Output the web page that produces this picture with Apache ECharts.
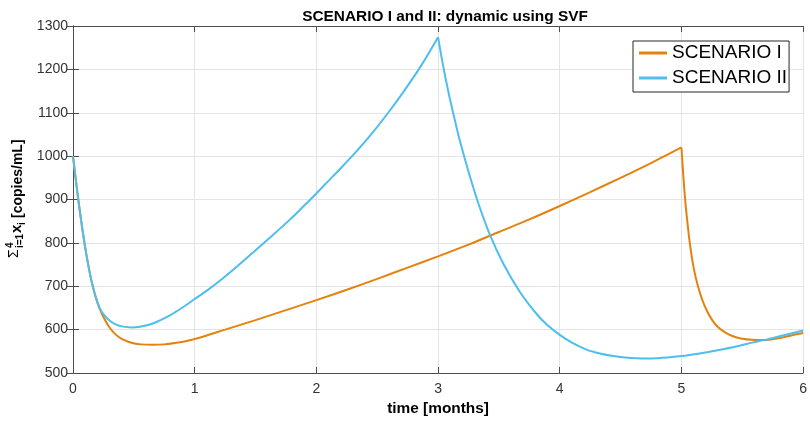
<!DOCTYPE html>
<html>
<head>
<meta charset="utf-8">
<script src="https://cdn.jsdelivr.net/npm/echarts@6/dist/echarts.min.js"></script>
<style>
  html, body { margin: 0; padding: 0; background: #fff; }
  #chart { width: 810px; height: 423px; }
</style>
</head>
<body>
<div id="chart"></div>
<script>
// Total viral load (sum over the four compartments), two treatment scenarios
const timeI = [0, 0.025, 0.05, 0.08, 0.11, 0.14, 0.165, 0.19, 0.22, 0.25, 0.3, 0.35, 0.4, 0.48, 0.56, 0.65, 0.75, 0.85, 1.0,
  1.25, 1.5, 1.75, 2.0, 2.25, 2.5, 2.75, 3.0, 3.25, 3.5, 3.75, 4.0, 4.25, 4.5, 4.75, 5.0,
  5.011, 5.022, 5.035, 5.049, 5.062, 5.076, 5.095, 5.117, 5.14, 5.172, 5.21, 5.253, 5.3, 5.362, 5.43, 5.5, 5.58, 5.66,
  5.74, 5.83, 5.91, 6.0];
const valuesI = [1000, 941, 886, 826, 773, 728, 697, 672, 648, 629, 605, 589, 578.5, 569.7, 566, 565, 566, 569.5, 578.5,
  600, 622, 645, 668, 692, 717, 743, 769, 796, 825, 854, 885, 917, 950, 984, 1020,
  973, 930, 886, 848, 815, 785, 751, 721, 696, 668, 643, 622, 606, 593, 584, 579, 576.5, 576,
  577.5, 582, 587, 592];

const timeII = [0, 0.025, 0.05, 0.08, 0.11, 0.14, 0.165, 0.19, 0.22, 0.25, 0.3, 0.35, 0.4, 0.48, 0.55, 0.65, 0.8, 0.9, 1.0,
  1.1, 1.23, 1.35, 1.5, 1.65, 1.78, 1.9, 2.0, 2.1, 2.2, 2.32, 2.45, 2.59, 2.72, 2.86, 3.0,
  3.015, 3.03, 3.06, 3.1, 3.16, 3.2, 3.26, 3.33, 3.43, 3.54, 3.67, 3.81, 3.9, 4.0, 4.1, 4.22, 4.33, 4.44, 4.56, 4.68, 4.8,
  5.0, 5.15, 5.31, 5.45, 5.58, 5.7, 5.8, 5.9, 6.0];
const valuesII = [1000, 941, 886, 826, 773, 728, 697, 672, 649, 636, 621, 612, 607.5, 605, 606.5, 613.5, 633.5, 651, 670.5,
  690, 718, 746, 783, 820, 853, 886, 914, 943, 972, 1008, 1050, 1100, 1150, 1208, 1274,
  1250, 1226, 1182, 1129, 1057, 1014, 955, 892, 816, 750, 688, 636, 610, 588, 570, 554, 545, 539, 535, 533.5, 534,
  539, 545, 553, 561, 570, 577, 584, 591, 598];

// dosing switch times: the curves have a sharp corner here
const switchI = 5;
const switchII = 3;

const seriesNames = ['SCENARIO I', 'SCENARIO II'];
const xTicks = { min: 0, max: 6, step: 1 };
const yTicks = { min: 500, max: 1300, step: 100 };

const FONT = '"Liberation Sans", Arial, Helvetica, sans-serif';
const AXIS_COLOR = '#4d4d4d';
const GRID_COLOR = '#e4e4e4';
const COLOR_I = '#E5820F';
const COLOR_II = '#4DBEEE';

const zip = (xs, ys) => xs.map((x, i) => [x, ys[i]]);
// split a curve at the switch time so each piece can be smoothed on its own
const splitAt = (pts, t0) => [pts.filter(p => p[0] <= t0), pts.filter(p => p[0] >= t0)];

const [I_a, I_b] = splitAt(zip(timeI, valuesI), switchI);
const [II_a, II_b] = splitAt(zip(timeII, valuesII), switchII);

const lineSeries = (name, data, color, z) => ({
  name, type: 'line', data,
  showSymbol: false,
  smooth: 0.3,
  color,
  lineStyle: { color, width: 2 },
  z
});

const chart = echarts.init(document.getElementById('chart'), null, { renderer: 'canvas' });

const mirrorAxis = {
  show: true,
  axisLine: { show: true, lineStyle: { color: AXIS_COLOR, width: 1 } },
  axisTick: { show: true, inside: true, length: 6, lineStyle: { color: AXIS_COLOR } },
  axisLabel: { show: false },
  splitLine: { show: false }
};

chart.setOption({
  animation: false,
  backgroundColor: '#ffffff',
  title: {
    text: 'SCENARIO I and II: dynamic using SVF',
    left: 440,
    textAlign: 'center',
    top: 4,
    textStyle: { fontFamily: FONT, fontSize: 15.4, fontWeight: 'bold', color: '#000' }
  },
  grid: { left: 73, right: 3, top: 26, bottom: 50, containLabel: false },
  legend: {
    data: seriesNames,
    orient: 'vertical',
    left: 633,
    top: 41,
    padding: [2, 2, 4, 6],
    itemGap: 5,
    itemWidth: 28,
    itemHeight: 3,
    icon: 'rect',
    backgroundColor: '#ffffff',
    borderColor: '#262626',
    borderWidth: 1,
    borderRadius: 0,
    textStyle: { fontFamily: FONT, fontSize: 19, color: '#000', lineHeight: 20 }
  },
  xAxis: [
    {
      type: 'value',
      min: xTicks.min, max: xTicks.max, interval: xTicks.step,
      name: 'time [months]',
      nameLocation: 'middle',
      nameGap: 25,
      nameTextStyle: { fontFamily: FONT, fontSize: 15.4, fontWeight: 'bold', color: '#000' },
      axisLine: { show: true, onZero: false, lineStyle: { color: AXIS_COLOR, width: 1 } },
      axisTick: { show: true, inside: true, length: 6, lineStyle: { color: AXIS_COLOR } },
      axisLabel: { fontFamily: FONT, fontSize: 14, color: '#333', margin: 9 },
      splitLine: { show: true, lineStyle: { color: GRID_COLOR, width: 1 } }
    },
    Object.assign({ type: 'value', position: 'top', min: xTicks.min, max: xTicks.max, interval: xTicks.step }, mirrorAxis)
  ],
  yAxis: [
    {
      type: 'value',
      min: yTicks.min, max: yTicks.max, interval: yTicks.step,
      axisLine: { show: true, onZero: false, lineStyle: { color: AXIS_COLOR, width: 1 } },
      axisTick: { show: true, inside: true, length: 6, lineStyle: { color: AXIS_COLOR } },
      axisLabel: { fontFamily: FONT, fontSize: 14, color: '#333', margin: 5, formatter: v => String(v) },
      splitLine: { show: true, lineStyle: { color: GRID_COLOR, width: 1 } }
    },
    Object.assign({ type: 'value', position: 'right', min: yTicks.min, max: yTicks.max, interval: yTicks.step }, mirrorAxis)
  ],
  series: [
    lineSeries(seriesNames[0], I_a, COLOR_I, 3),
    lineSeries(seriesNames[0], I_b, COLOR_I, 3),
    lineSeries(seriesNames[1], II_a, COLOR_II, 4),
    lineSeries(seriesNames[1], II_b, COLOR_II, 4)
  ],
  // y-axis title: Σ with stacked limits, bold x_i, then units
  graphic: [
    {
      type: 'group',
      x: 18,
      y: 258,
      rotation: Math.PI / 2,
      children: [
        { type: 'text', x: 0, y: -4, style: { text: 'Σ', font: '14px ' + FONT, fill: '#000', align: 'left', verticalAlign: 'middle' } },
        { type: 'text', x: 10, y: -8, style: { text: '4', font: 'bold 10px ' + FONT, fill: '#000', align: 'left', verticalAlign: 'middle' } },
        { type: 'text', x: 10, y: 2, style: { text: 'i=1', font: 'bold 10px ' + FONT, fill: '#000', align: 'left', verticalAlign: 'middle' } },
        { type: 'text', x: 25, y: -1, style: { text: 'x', font: 'bold 15px ' + FONT, fill: '#000', align: 'left', verticalAlign: 'middle' } },
        { type: 'text', x: 33, y: 4, style: { text: 'i', font: 'bold 10px ' + FONT, fill: '#000', align: 'left', verticalAlign: 'middle' } },
        { type: 'text', x: 40, y: 0, style: { text: '[copies/mL]', font: 'bold 14px ' + FONT, fill: '#000', align: 'left', verticalAlign: 'middle' } }
      ]
    }
  ]
});
</script>
</body>
</html>
